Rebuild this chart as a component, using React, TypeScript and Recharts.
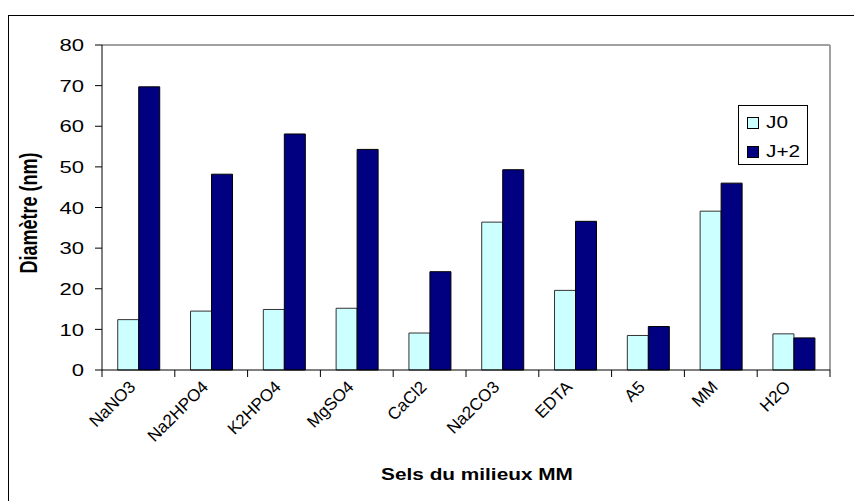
import { Bar, BarChart, CartesianGrid, Label, Legend, XAxis, YAxis } from "recharts";

const CATEGORIES = [
  "NaNO3",
  "Na2HPO4",
  "K2HPO4",
  "MgSO4",
  "CaCl2",
  "Na2CO3",
  "EDTA",
  "A5",
  "MM",
  "H2O",
];
const J0 = [12.4, 14.5, 14.9, 15.2, 9.1, 36.4, 19.6, 8.5, 39.1, 8.9];
const J2 = [69.7, 48.2, 58.1, 54.3, 24.2, 49.3, 36.6, 10.7, 46.0, 7.9];
const Y_TICKS = [0, 10, 20, 30, 40, 50, 60, 70, 80];
const SERIES_ORDER = ["J0", "J+2"];

const FONT = "'Liberation Sans', Arial, sans-serif";
// the picture is stretched sideways, so the horizontal text is too
const SX = 1.3;

const data = CATEGORIES.map((name, i) => ({ name, j0: J0[i], j2: J2[i] }));

function YTick({ x, y, payload }: any) {
  return (
    <text
      transform={`translate(${x},${y}) scale(${SX},1)`}
      textAnchor="end"
      dy="0.36em"
      fontSize={17}
      fontFamily={FONT}
      fill="#000"
    >
      {payload.value}
    </text>
  );
}

function XTick({ x, y, payload, index }: any) {
  const half = payload.offset || 36.4;
  return (
    <g>
      <line x1={x - half} x2={x - half} y1={y} y2={y + 7} stroke="#000" />
      {index === CATEGORIES.length - 1 && (
        <line x1={x + half} x2={x + half} y1={y} y2={y + 7} stroke="#000" />
      )}
      <text
        transform={`translate(${x - 2},${y + 18}) rotate(-45)`}
        textAnchor="end"
        fontSize={17}
        fontFamily={FONT}
        fill="#000"
      >
        {payload.value}
      </text>
    </g>
  );
}

function LegendBox({ payload }: any) {
  const items = [...(payload || [])].sort(
    (a: any, b: any) => SERIES_ORDER.indexOf(a.value) - SERIES_ORDER.indexOf(b.value)
  );
  return (
    <div
      style={{
        width: 70,
        height: 60,
        boxSizing: "border-box",
        border: "1px solid #000",
        background: "#fff",
        paddingTop: 2,
      }}
    >
      {items.map((p: any) => (
        <div
          key={p.value}
          style={{ display: "flex", alignItems: "center", height: 29, marginLeft: 8 }}
        >
          <span
            style={{
              display: "inline-block",
              width: 10,
              height: 10,
              background: p.color,
              border: "1px solid #000",
            }}
          />
          <span
            style={{
              display: "inline-block",
              marginLeft: 7,
              fontFamily: FONT,
              fontSize: 16,
              transform: `scaleX(${SX})`,
              transformOrigin: "left center",
            }}
          >
            {p.value}
          </span>
        </div>
      ))}
    </div>
  );
}

export default function App() {
  return (
    <div style={{ position: "relative", width: 854, height: 501, overflow: "hidden", background: "#fff" }}>
      <style>{"body{margin:0}"}</style>
      <div
        style={{
          position: "absolute",
          left: 8,
          top: 15,
          width: 880,
          height: 520,
          border: "1px solid #000",
        }}
      />
      <div style={{ position: "absolute", left: 0, top: 0 }}>
        <BarChart
          width={854}
          height={501}
          data={data}
          margin={{ top: 45, right: 24, bottom: 101, left: 0 }}
          barCategoryGap="21.6%"
          barGap={0}
        >
          <CartesianGrid
            stroke="#a0a0a0"
            strokeWidth={2}
            horizontalCoordinatesGenerator={({ offset }: any) => [offset.top]}
            verticalCoordinatesGenerator={({ offset }: any) => [offset.left + offset.width]}
          />
          <XAxis
            dataKey="name"
            interval={0}
            height={30}
            tickSize={0}
            tickMargin={0}
            tickLine={false}
            axisLine={{ stroke: "#000" }}
            tick={<XTick />}
          >
            <Label
              content={() => (
                <text
                  transform={`translate(477,480) scale(${SX},1)`}
                  textAnchor="middle"
                  fontSize={16}
                  fontWeight="bold"
                  fontFamily={FONT}
                  fill="#000"
                >
                  Sels du milieux MM
                </text>
              )}
            />
          </XAxis>
          <YAxis
            width={102}
            domain={[0, 80]}
            ticks={Y_TICKS}
            tickSize={7}
            tickMargin={11}
            axisLine={{ stroke: "#000" }}
            tickLine={{ stroke: "#000" }}
            tick={<YTick />}
          >
            <Label
              content={() => (
                <text
                  transform={`translate(29,213) scale(${SX},1) rotate(-90)`}
                  textAnchor="middle"
                  dy="0.36em"
                  fontSize={18}
                  fontWeight="bold"
                  fontFamily={FONT}
                  fill="#000"
                >
                  Diamètre (nm)
                </text>
              )}
            />
          </YAxis>
          <Legend
            layout="horizontal"
            verticalAlign="middle"
            align="center"
            wrapperStyle={{ position: "absolute", left: 738, top: 105, width: 70, height: 60 }}
            content={<LegendBox />}
          />
          <Bar dataKey="j0" name="J0" fill="#ccffff" stroke="#333" isAnimationActive={false} />
          <Bar dataKey="j2" name="J+2" fill="#000080" stroke="#000" isAnimationActive={false} />
        </BarChart>
      </div>
    </div>
  );
}
